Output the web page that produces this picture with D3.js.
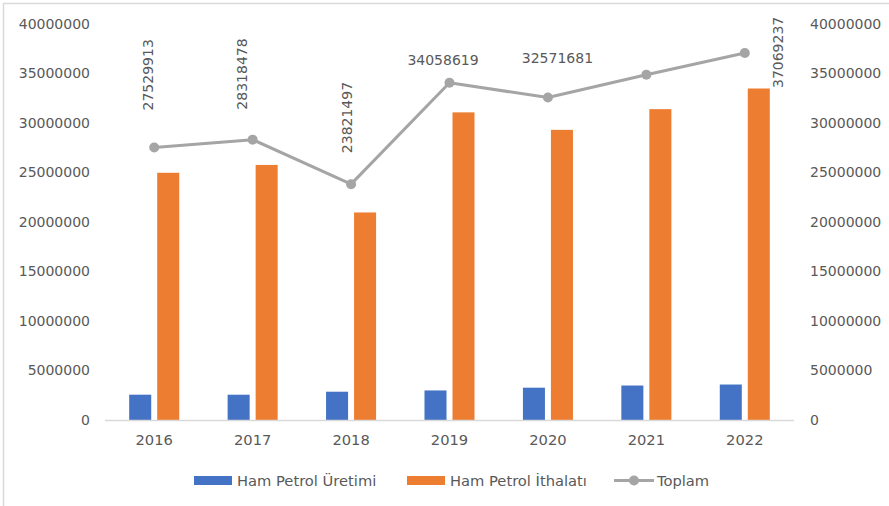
<!DOCTYPE html>
<html>
<head>
<meta charset="utf-8">
<script src="https://cdn.jsdelivr.net/npm/d3@7"></script>
<style>
  html, body { margin: 0; padding: 0; background: #fff; }
  svg { display: block; font-family: "DejaVu Sans", sans-serif; }
</style>
</head>
<body>
<svg id="chart" width="889" height="506"></svg>
<script>
// Ham petrol üretimi, ithalatı ve toplamı (ton)
const years = ["2016", "2017", "2018", "2019", "2020", "2021", "2022"];
const production = [2557000, 2554000, 2857000, 2985000, 3264000, 3482000, 3584000];
const imports = [24972913, 25764478, 20964497, 31073619, 29307681, 31400000, 33485237];
const totals = [27529913, 28318478, 23821497, 34058619, 32571681, 34882000, 37069237];
const totalLabels = ["27529913", "28318478", "23821497", "34058619", "32571681", null, "37069237"];
const yTicks = [0, 5000000, 10000000, 15000000, 20000000, 25000000, 30000000, 35000000, 40000000];
const seriesNames = ["Ham Petrol Üretimi", "Ham Petrol İthalatı", "Toplam"];

const colors = { prod: "#4472c4", imp: "#ed7d31", total: "#a5a5a5" };
const textColor = "#595959";
const fontSize = 14;
const catFontSize = 14.7;

const svg = d3.select("#chart");

// outer chart frame
svg.append("rect")
  .attr("x", 3.5).attr("y", 3.5)
  .attr("width", 1200).attr("height", 1200)
  .attr("fill", "none").attr("stroke", "#d9d9d9").attr("stroke-width", 1.5);

const x = d3.scaleBand().domain(years).range([105, 794]).paddingInner(0).paddingOuter(0);
const xs = d3.scaleBand().domain(["prod", "imp"]).range([0, x.bandwidth()])
  .paddingInner(0.214).paddingOuter(0.864);
const y = d3.scaleLinear().domain([0, 40000000]).range([420, 24]);

// left axis labels
const leftAxis = d3.axisLeft(y).tickValues(yTicks).tickFormat(d3.format("d")).tickSize(0).tickPadding(0);
const gl = svg.append("g").attr("transform", "translate(90,0)").call(leftAxis);
gl.select(".domain").remove();
gl.selectAll("text").attr("fill", textColor).style("font-size", fontSize + "px")
  .style("font-family", "DejaVu Sans");

// right axis labels
const rightAxis = d3.axisRight(y).tickValues(yTicks).tickFormat(d3.format("d")).tickSize(0).tickPadding(0);
const gr = svg.append("g").attr("transform", "translate(810,0)").call(rightAxis);
gr.select(".domain").remove();
gr.selectAll("text").attr("fill", textColor).style("font-size", fontSize + "px")
  .style("font-family", "DejaVu Sans");

// bars
const barData = years.map((yr, i) => ({ yr, prod: production[i], imp: imports[i] }));
const groups = svg.append("g").selectAll("g").data(barData).join("g")
  .attr("transform", d => `translate(${x(d.yr)},0)`);
groups.selectAll("rect")
  .data(d => [{ k: "prod", v: d.prod }, { k: "imp", v: d.imp }])
  .join("rect")
  .attr("x", d => xs(d.k))
  .attr("width", xs.bandwidth())
  .attr("y", d => y(d.v))
  .attr("height", d => y(0) - y(d.v))
  .attr("fill", d => colors[d.k]);

// baseline
svg.append("line")
  .attr("x1", 105).attr("x2", 794)
  .attr("y1", y(0) + 0.5).attr("y2", y(0) + 0.5)
  .attr("stroke", "#d9d9d9").attr("stroke-width", 1.5);

// x axis labels
const bottomAxis = d3.axisBottom(x).tickSize(0).tickPadding(0);
const gb = svg.append("g").attr("transform", `translate(0,${y(0) + 12})`).call(bottomAxis);
gb.select(".domain").remove();
gb.selectAll("text").attr("fill", textColor).style("font-size", catFontSize + "px")
  .style("font-family", "DejaVu Sans").attr("dy", "0.9em");

// total line
const cx = d => x(d.yr) + x.bandwidth() / 2;
const lineData = years.map((yr, i) => ({ yr, v: totals[i], label: totalLabels[i] }));
svg.append("path")
  .datum(lineData)
  .attr("fill", "none")
  .attr("stroke", colors.total)
  .attr("stroke-width", 3)
  .attr("stroke-linejoin", "round")
  .attr("d", d3.line().x(cx).y(d => y(d.v)));
svg.append("g").selectAll("circle").data(lineData).join("circle")
  .attr("cx", cx).attr("cy", d => y(d.v)).attr("r", 5)
  .attr("fill", colors.total);

// data label placement, offsets relative to each point
const labelLayout = {
  "2016": { rot: true, dx: -1.5, dy: -37 },
  "2017": { rot: true, dx: -6, dy: -30 },
  "2018": { rot: true, dx: 1, dy: -31 },
  "2019": { rot: false, dx: -6.5, dy: -18 },
  "2020": { rot: false, dx: 9.5, dy: -34.5 },
  "2022": { rot: true, dx: 38, dy: 35 }
};
svg.append("g").selectAll("text").data(lineData.filter(d => d.label)).join("text")
  .attr("fill", textColor)
  .style("font-size", fontSize + "px")
  .attr("text-anchor", d => labelLayout[d.yr].rot ? "start" : "middle")
  .attr("transform", d => {
    const L = labelLayout[d.yr];
    const px = cx(d) + L.dx, py = y(d.v) + L.dy;
    return L.rot ? `translate(${px},${py}) rotate(-90)` : `translate(${px},${py})`;
  })
  .text(d => d.label);

// legend
const legend = svg.append("g");
const legendItems = [
  { name: seriesNames[0], type: "rect", color: colors.prod, x: 194 },
  { name: seriesNames[1], type: "rect", color: colors.imp, x: 407 },
  { name: seriesNames[2], type: "line", color: colors.total, x: 614 }
];
const ly = 480.5;
legendItems.forEach(it => {
  if (it.type === "rect") {
    legend.append("rect").attr("x", it.x).attr("y", ly - 4.5).attr("width", 38).attr("height", 9)
      .attr("fill", it.color);
  } else {
    legend.append("line").attr("x1", it.x).attr("x2", it.x + 40).attr("y1", ly).attr("y2", ly)
      .attr("stroke", it.color).attr("stroke-width", 3);
    legend.append("circle").attr("cx", it.x + 20).attr("cy", ly).attr("r", 5).attr("fill", it.color);
  }
  legend.append("text").attr("x", it.x + 43).attr("y", ly).attr("dy", "0.35em")
    .attr("fill", textColor).style("font-size", catFontSize + "px").text(it.name);
});
</script>
</body>
</html>
